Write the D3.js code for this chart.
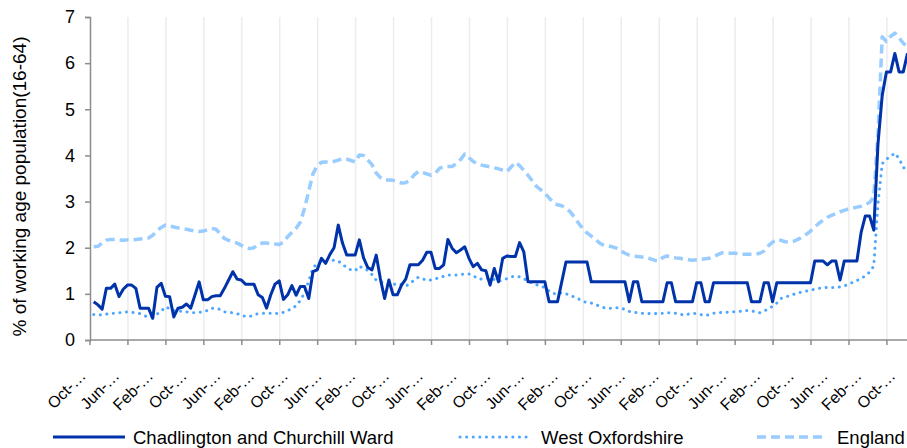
<!DOCTYPE html>
<html><head><meta charset="utf-8">
<script src="https://cdn.jsdelivr.net/npm/d3@7/dist/d3.min.js"></script>
<style>
html,body{margin:0;padding:0;background:#fff;}
text{font-family:"Liberation Sans",Arial,sans-serif;fill:#000;}
</style></head><body>
<svg id="c" width="907" height="448"></svg>
<script>
// Monthly categories Oct 2004 .. Nov 2020 (194 months)
const monthNames = ["Jan","Feb","Mar","Apr","May","Jun","Jul","Aug","Sep","Oct","Nov","Dec"];
const categories = d3.range(194).map(i => {
  const m = (9 + i) % 12, yr = 2004 + Math.floor((9 + i) / 12);
  return monthNames[m] + "-" + String(yr).slice(2);
});
const tickLabels = ["Oct-\u2026","Jun-\u2026","Feb-\u2026","Oct-\u2026","Jun-\u2026","Feb-\u2026","Oct-\u2026","Jun-\u2026","Feb-\u2026","Oct-\u2026","Jun-\u2026","Feb-\u2026","Oct-\u2026","Jun-\u2026","Feb-\u2026","Oct-\u2026","Jun-\u2026","Feb-\u2026","Oct-\u2026","Jun-\u2026","Feb-\u2026","Oct-\u2026","Jun-\u2026","Feb-\u2026","Oct-\u2026"];
const yTicks = [0,1,2,3,4,5,6,7];
const seriesNames = ["Chadlington and Churchill Ward","West Oxfordshire","England"];

const chadlington = [
0.83,0.76,0.67,1.12,1.12,1.21,0.94,1.10,1.19,1.19,
1.12,0.69,0.69,0.69,0.47,1.14,1.23,0.95,0.94,0.50,
0.69,0.71,0.78,0.69,0.97,1.26,0.87,0.87,0.94,0.96,
0.96,1.12,1.30,1.48,1.32,1.30,1.21,1.21,1.21,0.98,
0.92,0.69,0.98,1.21,1.28,0.88,0.98,1.18,0.97,1.16,
1.16,0.90,1.48,1.52,1.77,1.66,1.85,2.00,2.49,2.10,
1.84,1.84,1.84,2.17,1.78,1.57,1.52,1.84,1.32,0.90,
1.30,0.98,0.98,1.19,1.32,1.63,1.63,1.63,1.73,1.90,
1.90,1.55,1.55,1.63,2.18,1.99,1.89,1.95,2.02,1.77,
1.59,1.66,1.52,1.50,1.19,1.55,1.26,1.77,1.82,1.81,
1.81,2.11,1.91,1.26,1.26,1.26,1.26,1.26,0.83,0.83,
0.83,1.26,1.69,1.69,1.69,1.69,1.69,1.69,1.26,1.26,
1.26,1.26,1.26,1.26,1.26,1.26,1.26,0.83,1.26,1.26,
0.83,0.83,0.83,0.83,0.83,0.83,1.24,1.24,0.83,0.83,
0.83,0.83,0.83,1.24,1.24,0.83,0.83,1.24,1.24,1.24,
1.24,1.24,1.24,1.24,1.24,1.24,0.83,0.83,0.83,1.24,
1.24,0.83,1.24,1.24,1.24,1.24,1.24,1.24,1.24,1.24,
1.24,1.71,1.71,1.71,1.63,1.71,1.71,1.30,1.71,1.71,
1.71,1.71,2.33,2.69,2.69,2.38,4.25,5.30,5.81,5.81,
6.21,5.81,5.81,6.21];

const westOxfordshire = [
0.55,0.55,0.54,0.56,0.58,0.58,0.59,0.60,0.61,0.60,
0.59,0.57,0.53,0.49,0.51,0.56,0.62,0.72,0.68,0.64,
0.63,0.62,0.61,0.60,0.59,0.60,0.61,0.64,0.69,0.69,
0.66,0.61,0.60,0.59,0.57,0.54,0.51,0.51,0.55,0.57,
0.58,0.58,0.58,0.58,0.57,0.60,0.63,0.69,0.74,0.86,
1.02,1.28,1.56,1.66,1.70,1.71,1.72,1.73,1.71,1.64,
1.57,1.52,1.50,1.60,1.55,1.51,1.42,1.30,1.26,1.23,
1.21,1.20,1.22,1.20,1.17,1.22,1.30,1.36,1.33,1.29,
1.30,1.32,1.36,1.38,1.41,1.41,1.41,1.42,1.43,1.43,
1.40,1.33,1.32,1.33,1.34,1.31,1.27,1.30,1.33,1.37,
1.38,1.37,1.33,1.28,1.23,1.20,1.16,1.14,1.06,1.01,
0.99,1.03,1.00,0.97,0.93,0.89,0.84,0.81,0.80,0.77,
0.73,0.70,0.69,0.69,0.70,0.70,0.66,0.62,0.60,0.59,
0.58,0.58,0.57,0.57,0.58,0.58,0.59,0.59,0.58,0.56,
0.54,0.56,0.58,0.57,0.55,0.53,0.55,0.58,0.59,0.60,
0.60,0.61,0.61,0.61,0.64,0.64,0.63,0.61,0.59,0.63,
0.67,0.73,0.80,0.90,0.93,0.96,0.99,1.02,1.04,1.06,
1.08,1.10,1.12,1.13,1.14,1.14,1.14,1.15,1.17,1.21,
1.25,1.29,1.33,1.39,1.47,1.60,2.95,3.82,3.92,3.98,
4.05,3.93,3.75,3.62];

const england = [
2.02,2.03,2.10,2.16,2.18,2.18,2.17,2.16,2.17,2.17,
2.18,2.19,2.20,2.21,2.27,2.36,2.44,2.49,2.47,2.45,
2.43,2.42,2.40,2.38,2.36,2.35,2.36,2.39,2.42,2.40,
2.30,2.20,2.16,2.13,2.10,2.05,2.01,1.98,2.00,2.07,
2.10,2.10,2.09,2.08,2.07,2.12,2.24,2.33,2.42,2.55,
2.85,3.23,3.60,3.78,3.85,3.86,3.86,3.87,3.90,3.93,
3.92,3.89,3.86,4.01,4.00,3.90,3.80,3.62,3.52,3.47,
3.47,3.46,3.43,3.40,3.41,3.46,3.58,3.65,3.63,3.60,
3.57,3.61,3.72,3.76,3.76,3.76,3.82,3.91,4.03,3.95,
3.87,3.82,3.79,3.77,3.75,3.73,3.71,3.68,3.65,3.75,
3.85,3.78,3.68,3.57,3.45,3.33,3.26,3.18,3.08,2.97,
2.93,2.91,2.85,2.78,2.66,2.53,2.41,2.32,2.25,2.18,
2.10,2.05,2.04,2.02,1.99,1.93,1.88,1.84,1.82,1.81,
1.80,1.80,1.76,1.73,1.71,1.79,1.82,1.80,1.78,1.77,
1.75,1.74,1.73,1.74,1.75,1.76,1.77,1.80,1.85,1.89,
1.89,1.88,1.88,1.87,1.86,1.86,1.86,1.86,1.88,1.93,
2.04,2.12,2.18,2.16,2.13,2.12,2.14,2.18,2.23,2.29,
2.36,2.45,2.53,2.60,2.66,2.70,2.74,2.78,2.81,2.84,
2.86,2.88,2.90,2.94,2.98,3.10,4.45,6.57,6.47,6.58,
6.65,6.55,6.43,6.36];

const svg = d3.select("#c");
svg.append("rect").attr("width",907).attr("height",448).attr("fill","#fff");

const x = d3.scaleLinear().domain([0, categories.length - 1]).range([93.7, 907.5]);
const y = d3.scaleLinear().domain([0, 7]).range([340, 17]);
const xLeft = 90, xRight = 907;

// vertical gridlines / category tick marks every 9 categories
const gridIdx = d3.range(0, 22).map(k => 9 * k - 0.88);
svg.append("g").selectAll("line").data(gridIdx.slice(1)).join("line")
  .attr("x1", d => x(d)).attr("x2", d => x(d))
  .attr("y1", y(7)).attr("y2", y(0))
  .attr("stroke", "#ececec").attr("stroke-width", 1.5);

// x axis
const gx = svg.append("g");
gx.append("line").attr("x1", xLeft).attr("x2", xRight).attr("y1", y(0)).attr("y2", y(0))
  .attr("stroke", "#8c8c8c").attr("stroke-width", 1.5);
gx.selectAll("line.t").data(gridIdx).join("line").attr("class","t")
  .attr("x1", d => x(d)).attr("x2", d => x(d))
  .attr("y1", y(0)).attr("y2", y(0) + 5)
  .attr("stroke", "#8c8c8c").attr("stroke-width", 1.5);
gx.selectAll("text").data(tickLabels).join("text")
  .attr("transform", (d, j) => `translate(${x(8 * j) - 7},${y(0) + 37}) rotate(-45)`)
  .attr("text-anchor", "end")
  .style("font-size", "16px")
  .text(d => d);

// y axis
const gy = svg.append("g").attr("transform", `translate(${xLeft},0)`)
  .call(d3.axisLeft(y).tickValues(yTicks).tickSize(5).tickPadding(10).tickFormat(d3.format("d")));
gy.select(".domain").attr("stroke", "#8c8c8c").attr("stroke-width", 1.5);
gy.selectAll(".tick line").attr("stroke", "#8c8c8c").attr("stroke-width", 1.5);
gy.selectAll(".tick text").style("font-size", "18px").style("font-family", "Liberation Sans, Arial, sans-serif").attr("fill", "#000");

svg.append("text")
  .attr("transform", `translate(26,${(y(0) + y(7)) / 2 + 8}) rotate(-90)`)
  .attr("text-anchor", "middle")
  .style("font-size", "19px")
  .text("% of working age population(16-64)");

const line = d3.line().x((d, i) => x(i)).y(d => y(d));
const styles = [
  {data: chadlington, color: "#0033aa", width: 3, dash: null, cap: "butt"},
  {data: westOxfordshire, color: "#4da6ff", width: 3, dash: "0.1,6.5", cap: "round"},
  {data: england, color: "#99ccff", width: 3.5, dash: "9,5", cap: "butt"}
];
const order = [2, 1, 0];
order.forEach(k => {
  const s = styles[k];
  svg.append("path").datum(s.data)
    .attr("d", line).attr("fill", "none")
    .attr("stroke", s.color).attr("stroke-width", s.width)
    .attr("stroke-linejoin", "round")
    .attr("stroke-linecap", s.cap)
    .attr("stroke-dasharray", s.dash);
});

// legend
const legendItems = [
  {x1: 53, x2: 125, tx: 133},
  {x1: 460, x2: 530, tx: 541},
  {x1: 757, x2: 825, tx: 837}
];
const lg = svg.append("g");
legendItems.forEach((p, k) => {
  const s = styles[k];
  lg.append("line").attr("x1", p.x1).attr("x2", p.x2).attr("y1", 437).attr("y2", 437)
    .attr("stroke", s.color).attr("stroke-width", s.width)
    .attr("stroke-linecap", s.cap).attr("stroke-dasharray", s.dash);
  lg.append("text").attr("x", p.tx).attr("y", 444).style("font-size", "18.5px").text(seriesNames[k]);
});
</script>
</body></html>
